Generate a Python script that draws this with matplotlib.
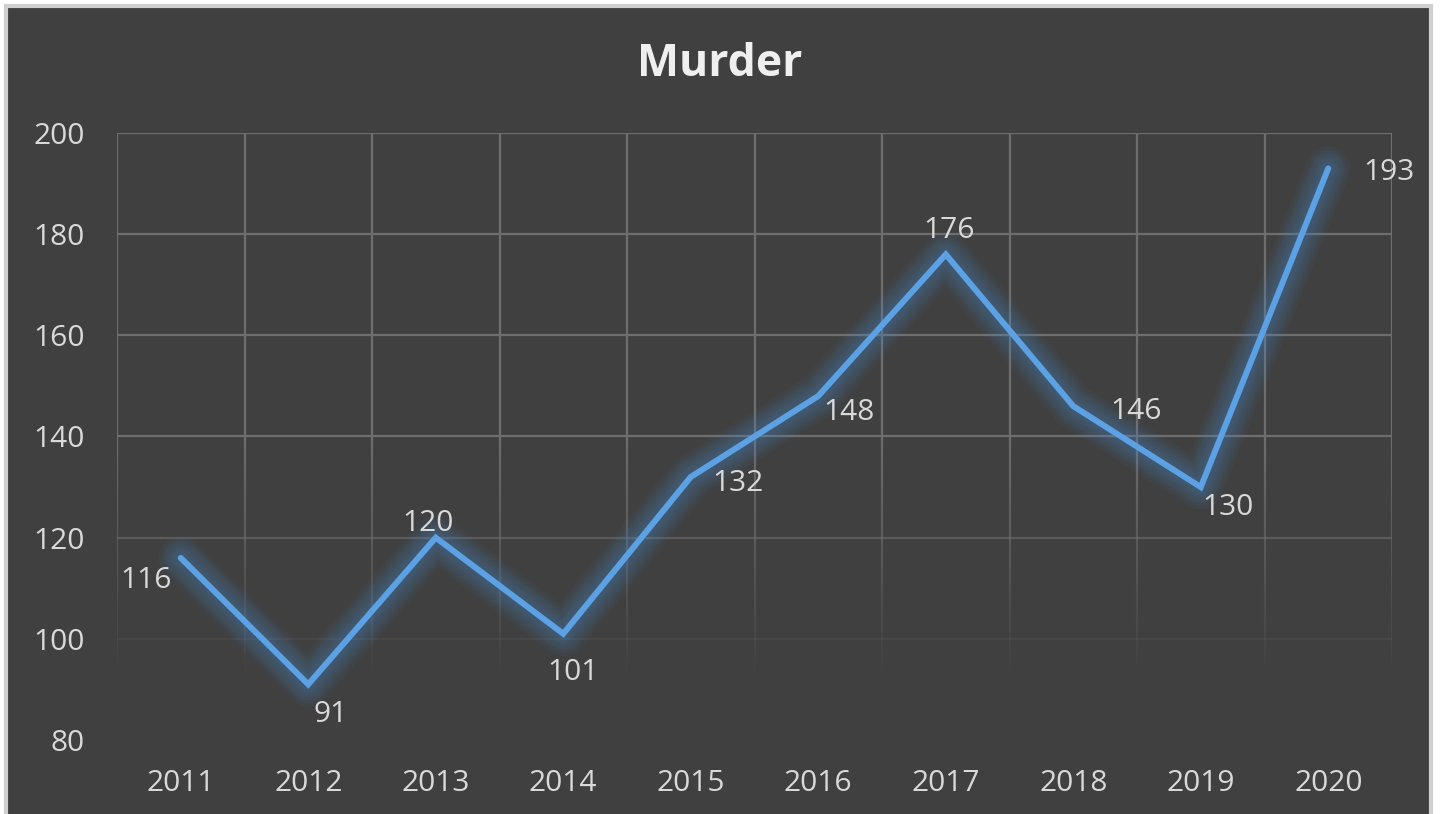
import numpy as np
import matplotlib.pyplot as plt
from matplotlib.patches import Rectangle
from matplotlib.collections import LineCollection

# data
years = ['2011', '2012', '2013', '2014', '2015', '2016', '2017', '2018', '2019', '2020']
murders = [116, 91, 120, 101, 132, 148, 176, 146, 130, 193]

# label offsets from the point, in pixels (right, down) - picked off the excel chart
label_off = [(-35, 19), (22, 27), (-8, -18), (10, 35), (47, 3),
             (31, 13), (3, -27), (63, 2), (27, 17), (61, 1)]

bg = '#404040'
txt = '#d9d9d9'
blue = '#5ba1e3'
plt.rcParams['font.family'] = ['Open Sans', 'DejaVu Sans']

fig = plt.figure(figsize=(14.43, 8.14), dpi=100, facecolor='white')
fig.patches.append(Rectangle((6/1443, -0.02), (1431-6)/1443, 1.02 - 6/814,
                             transform=fig.transFigure, facecolor=bg,
                             edgecolor='#cfcfcf', linewidth=3, zorder=-10))
ax = fig.add_axes([117/1443, 74/814, (1392-117)/1443, (740-133)/814])
ax.set_facecolor('none')
x = np.arange(len(years))
ax.set_xlim(-0.5, len(years) - 0.5)
ax.set_ylim(80, 200)
for s in ax.spines.values():
    s.set_visible(False)

# gridlines fading out toward the bottom
def fade(v):
    return np.clip((v - 92) / 48.0, 0, 1)

grid_rgb = (0.43, 0.43, 0.43)
yt = np.arange(80, 201, 20)
for v in yt:
    a = fade(v)
    if a > 0:
        ax.axhline(v, color=grid_rgb, alpha=float(a), lw=1.6, zorder=1)
ys = np.linspace(80, 200, 121)
for gx in np.arange(-0.5, len(years), 1.0):
    segs = [[(gx, ys[i]), (gx, ys[i + 1])] for i in range(len(ys) - 1)]
    cols = [grid_rgb + (float(fade((ys[i] + ys[i + 1]) / 2)),) for i in range(len(ys) - 1)]
    ax.add_collection(LineCollection(segs, colors=cols, linewidths=1.6, zorder=1))

# soft glow under the line
for w in [32, 27, 23, 19, 15, 12, 9]:
    ax.plot(x, murders, color='#4f8fd0', lw=w, alpha=0.06, solid_joinstyle='round',
            solid_capstyle='round', zorder=2)
ax.plot(x, murders, color=blue, lw=4.3, solid_joinstyle='miter',
        solid_capstyle='round', zorder=3)

for xi, v, (dx, dy) in zip(x, murders, label_off):
    ax.annotate(str(v), (xi, v), xytext=(dx, -dy), textcoords='offset pixels',
                ha='center', va='center_baseline', color=txt, fontsize=21.5, zorder=4)

ax.set_xticks(x)
ax.set_xticklabels(years)
ax.set_yticks(yt)
ax.tick_params(length=0, labelsize=21.5, labelcolor=txt)
ax.tick_params(axis='x', pad=21)
ax.tick_params(axis='y', pad=23)

fig.text(720/1443, 1 - 76/814, 'Murder', ha='center', va='baseline',
         fontsize=32, fontweight='bold', color='#efefef')

fig.savefig('out.png', dpi=100, facecolor=fig.get_facecolor())
